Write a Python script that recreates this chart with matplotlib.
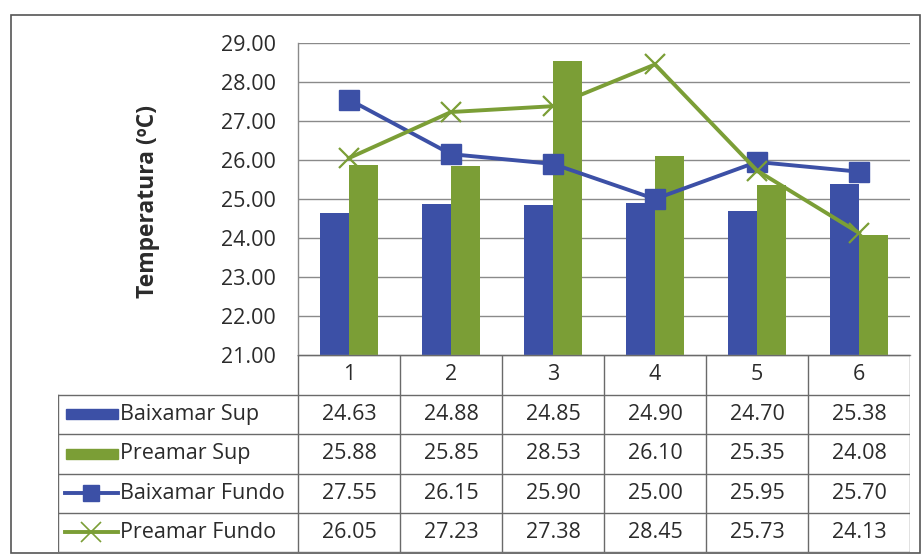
import matplotlib
matplotlib.use("Agg")
import matplotlib.pyplot as plt
from matplotlib.patches import Rectangle
from matplotlib.lines import Line2D
import numpy as np

plt.rcParams['font.family'] = ['Open Sans', 'DejaVu Sans']

categories = ["1", "2", "3", "4", "5", "6"]
baixamar_sup = [24.63, 24.88, 24.85, 24.90, 24.70, 25.38]
preamar_sup = [25.88, 25.85, 28.53, 26.10, 25.35, 24.08]
baixamar_fundo = [27.55, 26.15, 25.90, 25.00, 25.95, 25.70]
preamar_fundo = [26.05, 27.23, 27.38, 28.45, 25.73, 24.13]
series_names = ["Baixamar Sup", "Preamar Sup", "Baixamar Fundo", "Preamar Fundo"]
yticks = [21, 22, 23, 24, 25, 26, 27, 28, 29]

BLUE = "#3C50A6"
GREEN = "#7B9E36"
GRID = "#8a8a8a"
TXT = "#2b2b2b"
FS = 15.5

W, H = 924, 559
fig = plt.figure(figsize=(W / 100, H / 100), dpi=100)

def fx(px):
    return px / W

def fy(py):
    return 1 - py / H

# outer border
fig.patches.append(Rectangle((fx(11), fy(553)), fx(920) - fx(11), fy(15) - fy(553),
                             transform=fig.transFigure, fill=False, ec="#555555", lw=1.2))

L, R, T, B = 298, 910, 43, 355
ax = fig.add_axes([fx(L), fy(B), fx(R) - fx(L), fy(T) - fy(B)])
x = np.arange(len(categories))
bw = 0.28
ax.bar(x - bw / 2, baixamar_sup, bw, color=BLUE, zorder=2)
ax.bar(x + bw / 2, preamar_sup, bw, color=GREEN, zorder=2)
ax.plot(x, baixamar_fundo, color=BLUE, lw=2.8, marker='s', ms=14, zorder=3)
ax.plot(x, preamar_fundo, color=GREEN, lw=2.8, marker='x', ms=14, mew=1.6, zorder=4)
ax.set_ylim(21, 29)
ax.set_xlim(-0.5, len(categories) - 0.5)
ax.set_yticks(yticks)
ax.set_yticklabels([f"{v:.2f}" for v in yticks], fontsize=FS, color=TXT)
ax.tick_params(axis='y', length=0, pad=16)
ax.set_xticks([])
ax.grid(axis='y', color=GRID, lw=1.0, zorder=0)
for s in ax.spines.values():
    s.set_color(GRID)
    s.set_linewidth(1.0)
ax.spines['right'].set_visible(False)
ax.spines['top'].set_visible(False)
ax.set_ylabel("Temperatura (ºC)", fontsize=16.5, fontweight='bold', color=TXT)
ax.yaxis.set_label_coords((160 - L) / (R - L), (B - 202) / (B - T))

# data table
TL, TT, TB = 58, 355, 552
tax = fig.add_axes([fx(TL), fy(TB), fx(R) - fx(TL), fy(TT) - fy(TB)])
tax.set_xlim(TL, R)
tax.set_ylim(TB, TT)
tax.axis('off')
colw = (R - L) / len(categories)
row_edges = [355, 395, 434, 474, 513, 552]
lc = "#6a6a6a"
tax.add_line(Line2D([L, R], [row_edges[0], row_edges[0]], color=lc, lw=1.0))
for i in range(len(categories) + 1):
    tax.add_line(Line2D([L + i * colw] * 2, [row_edges[0], row_edges[-1]], color=lc, lw=1.0))
for j in range(1, len(row_edges)):
    tax.add_line(Line2D([TL, R], [row_edges[j]] * 2, color=lc, lw=1.0))
tax.add_line(Line2D([TL, TL], [row_edges[1], row_edges[-1]], color=lc, lw=1.0))
for i, c in enumerate(categories):
    tax.text(L + (i + 0.5) * colw, (row_edges[0] + row_edges[1]) / 2, c,
             ha='center', va='center', fontsize=FS, color=TXT)
all_series = [baixamar_sup, preamar_sup, baixamar_fundo, preamar_fundo]
for j, (name, vals) in enumerate(zip(series_names, all_series)):
    yc = (row_edges[j + 1] + row_edges[j + 2]) / 2
    for i, v in enumerate(vals):
        tax.text(L + (i + 0.5) * colw, yc, f"{v:.2f}", ha='center', va='center',
                 fontsize=FS, color=TXT)
    tax.text(120, yc, name, ha='left', va='center', fontsize=FS, color=TXT)
    if j == 0:
        tax.add_patch(Rectangle((66, yc - 5), 52, 10, color=BLUE))
    elif j == 1:
        tax.add_patch(Rectangle((66, yc - 5), 52, 10, color=GREEN))
    elif j == 2:
        tax.add_line(Line2D([65, 118], [yc, yc], color=BLUE, lw=2.8))
        tax.add_line(Line2D([91], [yc], color=BLUE, marker='s', ms=11, lw=0))
    else:
        tax.add_line(Line2D([65, 118], [yc, yc], color=GREEN, lw=2.8))
        tax.add_line(Line2D([91], [yc], color=GREEN, marker='x', ms=14, mew=1.2, lw=0))

fig.savefig("out.png", dpi=100)
